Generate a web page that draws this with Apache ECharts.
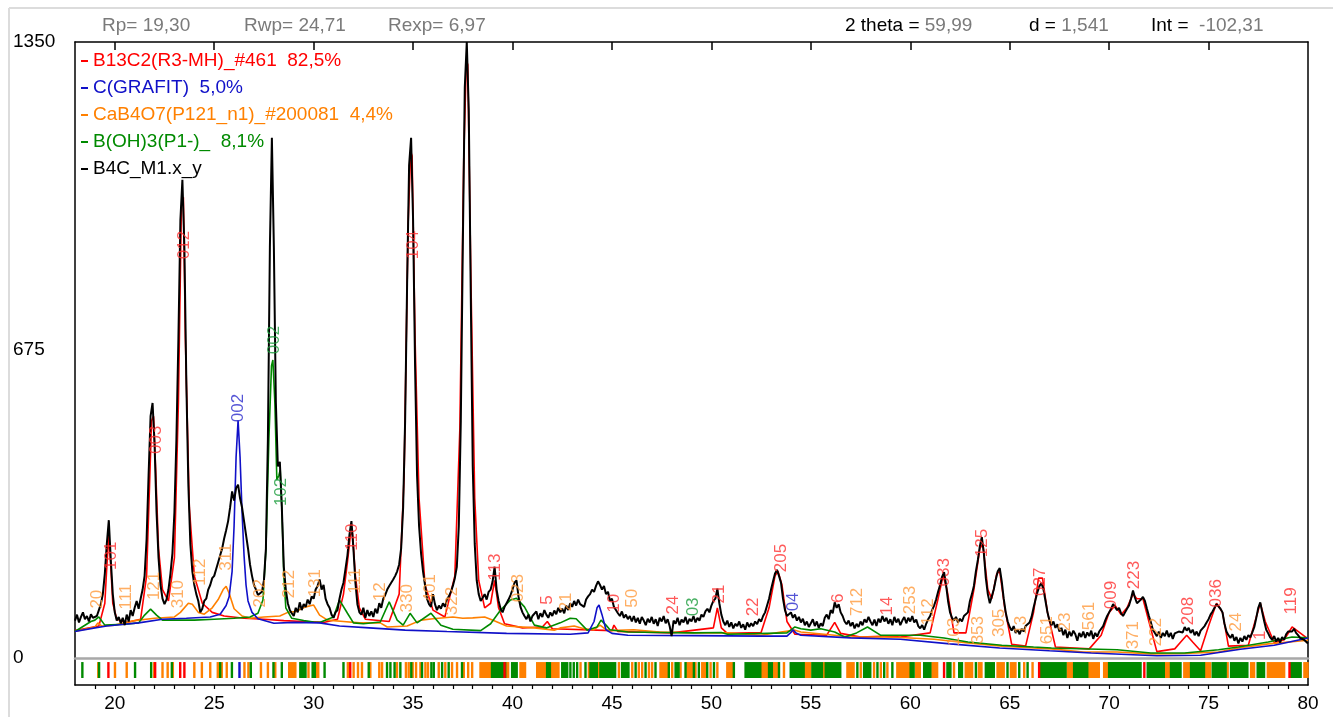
<!DOCTYPE html>
<html>
<head>
<meta charset="utf-8">
<title>B4C_M1 Rietveld</title>
<script src="https://cdn.jsdelivr.net/npm/echarts@6/dist/echarts.min.js"></script>
<style>
  html, body { margin: 0; padding: 0; background: #ffffff; }
  #chart { width: 1333px; height: 717px; }
</style>
</head>
<body>
<div id="chart"></div>
<script>
// ---- axis ranges and tick labels ----
const X_MIN = 18, X_MAX = 80;
const Y_MIN = 0, Y_MAX = 1350;
const X_LABEL_TICKS = [20, 25, 30, 35, 40, 45, 50, 55, 60, 65, 70, 75, 80];
const X_TOP_TICKS = [20, 25, 30, 35, 40, 45, 50, 55, 60, 65, 70, 75];
const Y_LABEL_TICKS = [0, 675, 1350];

// ---- refinement statistics shown in the header ----
const FIT_STATS = [
  { key: 'Rp= ', val: '19,30' },
  { key: 'Rwp= ', val: '24,71' },
  { key: 'Rexp= ', val: '6,97' }
];
const CURSOR_READOUT = [
  { key: '2 theta = ', val: '59,99' },
  { key: 'd = ', val: '1,541' },
  { key: 'Int =  ', val: '-102,31' }
];

// ---- series names (phase + weight fraction) ----
const NAME_B13C2 = 'B13C2(R3-MH)_#461  82,5%';
const NAME_GRAFIT = 'C(GRAFIT)  5,0%';
const NAME_CAB4O7 = 'CaB4O7(P121_n1)_#200081  4,4%';
const NAME_BOH3 = 'B(OH)3(P1-)_  8,1%';
const NAME_OBS = 'B4C_M1.x_y';

// ---- measured pattern, 2theta from 18.0 in steps of 0.1 ----
const OBS_START = 18.0, OBS_STEP = 0.1;
const OBS_INTENSITY = [
  82, 95, 78, 90, 100, 85, 92, 80, 96, 88,            // 18
  84, 92, 105, 118, 140, 185, 250, 302, 215, 140,     // 19
  100, 82, 90, 76, 88, 72, 95, 80, 105, 92,           // 20
  110, 125, 108, 130, 150, 180, 260, 400, 530, 559,   // 21
  470, 320, 220, 160, 130, 118, 128, 150, 185, 230,   // 22
  320, 480, 700, 960, 1048, 900, 600, 380, 250, 190,  // 23
  160, 140, 125, 100, 108, 125, 130, 150, 160, 175,   // 24
  180, 195, 210, 225, 240, 262, 280, 300, 330, 365,   // 25
  345, 372, 380, 350, 330, 300, 270, 240, 205, 180,   // 26
  160, 150, 138, 135, 145, 170, 240, 480, 900, 1140,  // 27
  900, 560, 420, 430, 330, 200, 150, 120, 105, 98,    // 28
  92, 110, 100, 122, 105, 118, 112, 128, 118, 135,    // 29
  130, 150, 158, 172, 150, 160, 130, 118, 110, 95,    // 30
  88, 100, 105, 130, 150, 165, 195, 225, 270, 300,    // 31
  240, 165, 118, 100, 95, 110, 88, 105, 92, 102,      // 32
  90, 108, 98, 120, 110, 130, 138, 150, 158, 165,     // 33
  172, 180, 190, 205, 240, 330, 520, 820, 1080, 1140, // 34
  960, 640, 400, 290, 230, 190, 160, 130, 118, 112,   // 35
  140, 118, 105, 115, 108, 120, 112, 128, 135, 145,   // 36
  158, 175, 200, 290, 520, 900, 1250, 1350, 1200, 800,// 37
  420, 250, 170, 140, 125, 132, 140, 128, 145, 150,   // 38
  168, 200, 150, 125, 108, 100, 112, 120, 128, 138,   // 39
  150, 165, 170, 135, 112, 100, 92, 85, 95, 80,       // 40
  92, 88, 102, 85, 98, 90, 105, 95, 88, 100,          // 41
  92, 104, 96, 110, 100, 108, 98, 115, 105, 120,      // 42
  112, 125, 115, 128, 118, 122, 112, 128, 135, 140,   // 43
  150, 145, 158, 168, 160, 150, 158, 140, 145, 125,   // 44
  130, 112, 105, 98, 92, 102, 88, 95, 85, 92,         // 45
  80, 92, 78, 88, 75, 90, 82, 72, 86, 78,             // 46
  90, 75, 85, 70, 88, 80, 92, 76, 85, 70,             // 47
  48, 82, 75, 88, 72, 84, 78, 90, 74, 86,             // 48
  80, 92, 78, 88, 82, 95, 90, 102, 108, 100,          // 49
  115, 125, 130, 152, 120, 95, 80, 72, 82, 68,        // 50
  78, 65, 75, 70, 80, 66, 74, 62, 78, 68,             // 51
  76, 70, 80, 74, 85, 80, 92, 100, 115, 130,          // 52
  150, 168, 185, 193, 180, 165, 130, 105, 92, 95,     // 53
  100, 88, 95, 82, 90, 78, 86, 72, 80, 68,            // 54
  76, 85, 70, 80, 66, 76, 70, 88, 95, 85,             // 55
  105, 98, 122, 110, 118, 100, 92, 80, 74, 82,        // 56
  70, 78, 65, 75, 68, 80, 72, 85, 78, 90,             // 57
  80, 72, 84, 70, 86, 78, 92, 80, 88, 75,             // 58
  85, 72, 90, 78, 86, 72, 82, 90, 76, 88,             // 59
  80, 92, 78, 84, 70, 65, 72, 62, 75, 85,             // 60
  92, 105, 115, 128, 145, 160, 178, 188, 160, 125,    // 61
  100, 88, 82, 90, 78, 86, 80, 92, 88, 100,           // 62
  125, 140, 158, 190, 215, 245, 265, 230, 175, 140,   // 63
  120, 135, 150, 172, 190, 197, 168, 130, 100, 80,    // 64
  68, 60, 70, 55, 62, 52, 64, 58, 70, 66,             // 65
  78, 90, 110, 128, 145, 158, 164, 150, 125, 100,     // 66
  82, 72, 80, 66, 74, 58, 66, 50, 62, 44,             // 67
  58, 48, 60, 52, 38, 55, 46, 58, 44, 56,             // 68
  48, 60, 42, 55, 47, 58, 62, 70, 82, 92,             // 69
  100, 108, 118, 115, 105, 110, 98, 92, 100, 108,     // 70
  115, 130, 148, 132, 120, 118, 128, 134, 125, 108,   // 71
  92, 78, 62, 55, 48, 58, 44, 55, 48, 60,             // 72
  46, 55, 42, 54, 50, 58, 62, 56, 68, 60,             // 73
  66, 55, 62, 50, 58, 48, 60, 62, 70, 78,             // 74
  85, 95, 102, 110, 118, 122, 108, 100, 75, 58,       // 75
  50, 44, 52, 38, 46, 32, 44, 36, 48, 40,             // 76
  50, 45, 56, 68, 88, 110, 122, 100, 80, 62,          // 77
  54, 45, 40, 48, 36, 44, 34, 46, 40, 52,             // 78
  58, 62, 58, 64, 55, 50, 44, 48, 40, 36,             // 79
  32                                                  // 80
];

// ---- calculated phase profiles (2theta, intensity incl. background) ----
const CALC_B13C2 = [
  [18.0,60],[19.2,70],[19.5,120],[19.6,200],[19.7,270],[19.8,200],[19.9,120],[20.1,85],[20.6,78],
  [21.3,85],[21.6,180],[21.75,380],[21.85,520],[21.95,530],[22.05,420],[22.2,240],[22.4,150],[22.7,125],
  [23.0,220],[23.2,560],[23.35,990],[23.45,1010],[23.55,700],[23.75,330],[24.0,180],[24.4,120],[24.9,100],
  [25.5,92],[26.5,87],[27.5,85],[28.5,82],[29.5,80],[30.5,78],[31.2,85],[31.5,140],[31.7,210],[31.85,270],
  [31.95,275],[32.1,180],[32.3,110],[32.6,85],[33.8,80],[34.3,140],[34.55,400],[34.75,950],[34.88,1110],
  [34.95,1100],[35.1,700],[35.3,350],[35.6,160],[36.0,105],[36.6,90],[37.1,180],[37.35,500],[37.55,1100],
  [37.68,1310],[37.75,1300],[37.9,850],[38.1,350],[38.3,170],[38.6,110],[38.9,120],[39.1,170],[39.3,110],
  [39.6,75],[40.5,66],[41.5,68],[41.75,80],[42.0,64],[45.0,60],[45.1,72],[45.3,58],[48.0,55],[50.1,66],
  [50.3,110],[50.5,66],[50.8,54],[52.5,56],[52.9,110],[53.2,180],[53.35,190],[53.55,160],[53.8,80],
  [54.2,52],[55.8,50],[56.2,78],[56.5,54],[57.5,46],[58.9,48],[59.5,46],[61.0,55],[61.4,130],[61.65,180],
  [61.85,150],[62.2,55],[62.8,55],[63.2,150],[63.5,240],[63.65,250],[63.9,150],[64.1,130],[64.35,185],
  [64.5,190],[64.75,110],[65.1,30],[65.8,26],[66.2,100],[66.45,175],[66.65,175],[66.9,100],[67.3,24],
  [69.0,20],[69.6,50],[70.0,100],[70.3,115],[70.6,95],[70.9,110],[71.2,140],[71.4,130],[71.7,130],
  [72.0,80],[72.4,14],[73.3,20],[73.6,35],[73.9,50],[74.2,35],[74.6,16],[75.0,70],[75.4,120],[75.7,100],
  [76.0,26],[77.0,28],[77.4,90],[77.6,120],[77.85,80],[78.3,34],[78.8,40],[79.2,68],[79.6,55],[80.0,42]
];
const CALC_GRAFIT = [
  [18.0,58],[19.0,66],[19.6,70],[20.5,74],[21.2,77],[22.4,85],[23.6,87],[24.8,90],[25.3,96],[25.6,115],
  [25.75,134],[25.9,190],[26.0,290],[26.1,440],[26.2,521],[26.3,440],[26.4,320],[26.5,225],[26.6,160],
  [26.7,125],[26.9,100],[27.2,86],[28.0,76],[29.0,78],[30.3,77],[31.3,70],[32.8,66],[34.6,61],[36.7,58],
  [39.7,54],[42.9,52],[43.8,55],[44.1,80],[44.25,110],[44.35,116],[44.5,95],[44.7,62],[45.0,54],[45.8,50],
  [49.2,49],[52.5,48],[53.8,48],[54.0,56],[54.1,62],[54.25,55],[54.5,50],[57.0,44],[59.5,41],[62.0,31],
  [64.5,22],[67.0,16],[69.1,11],[72.4,5],[74.6,6],[76.6,19],[78.3,28],[80.0,44]
];
const CALC_CAB4O7 = [
  [18.0,58],[19.0,68],[19.15,77],[19.35,70],[20.0,72],[21.0,82],[22.0,87],[23.0,90],[23.3,100],[23.7,120],
  [23.9,118],[24.2,100],[24.5,96],[24.9,110],[25.2,128],[25.45,150],[25.6,157],[25.75,142],[26.0,108],
  [26.4,92],[26.8,87],[27.5,90],[28.3,92],[28.7,100],[29.1,102],[29.6,112],[30.0,116],[30.3,94],[30.7,83],
  [31.5,80],[32.3,77],[33.35,77],[33.7,68],[34.7,70],[35.4,83],[36.0,86],[37.0,90],[37.5,87],[38.0,88],
  [38.6,90],[39.05,82],[39.7,70],[41.1,66],[42.1,61],[42.4,66],[43.1,70],[43.6,64],[44.1,62],[44.4,72],
  [44.7,62],[44.9,60],[46.1,62],[47.4,57],[49.1,55],[50.8,55],[52.5,50],[53.5,57],[54.2,61],[54.5,57],
  [56.2,50],[57.0,46],[58.7,46],[59.5,45],[61.2,41],[62.9,33],[64.6,26],[66.2,22],[67.1,20],[68.7,13],
  [70.4,13],[72.1,9],[73.8,10],[75.5,13],[76.5,22],[78.0,31],[80.0,39]
];
const CALC_BOH3 = [
  [18.0,58],[18.8,80],[19.0,83],[19.2,90],[19.5,72],[20.5,74],[21.2,77],[21.5,94],[21.8,107],[22.1,94],
  [22.4,83],[23.0,83],[24.0,83],[25.0,85],[26.0,87],[26.8,90],[27.2,98],[27.45,127],[27.6,237],[27.75,480],
  [27.88,640],[27.95,653],[28.05,560],[28.15,390],[28.25,400],[28.32,412],[28.4,330],[28.5,180],[28.6,110],
  [28.9,87],[29.5,82],[30.0,79],[30.3,78],[31.0,90],[31.3,127],[31.7,98],[32.0,77],[32.5,75],[33.35,79],
  [33.8,123],[34.2,83],[34.5,72],[34.85,98],[35.2,77],[35.9,98],[36.4,72],[37.0,63],[38.4,60],[38.9,75],
  [39.4,105],[39.9,127],[40.2,131],[40.6,112],[41.1,72],[41.7,66],[42.4,77],[42.9,87],[43.2,86],[43.75,61],
  [44.25,68],[44.45,83],[44.7,72],[44.9,62],[45.8,57],[47.4,56],[49.1,55],[50.5,56],[50.8,52],[53.8,55],
  [54.2,68],[54.5,64],[55.0,61],[55.5,64],[56.2,57],[56.7,46],[57.3,55],[57.85,68],[58.5,50],[59.5,50],
  [60.5,50],[61.7,44],[62.9,35],[64.6,28],[66.2,24],[67.1,22],[70.4,18],[72.1,11],[73.8,11],[75.5,18],
  [76.5,24],[78.0,35],[79.2,46],[80.0,44]
];

// ---- reflection markers: single 2theta or [from, to] for dense runs ----
const MARKS_CAB4O7 = [
  19.17, 20.01, 20.6, 21.98, 22.4, 22.66, 22.92, 24.0, 24.38, 24.8, 25.18, 25.38, 25.63, 26.52, 26.72,
  27.35, 27.7, 28.07, [28.77, 29.1], 29.74, [30.05, 30.25], 31.72, 32.01, 32.23, 32.43, 32.85, 33.3, 33.44,
  34.19, 34.64, 34.78, 34.98, 35.15, 35.37, 35.62, 35.75, 36.29, 36.62, 36.96, 37.21, 37.55, 37.77, 37.97,
  [38.39, 38.97], [39.7, 39.8], [40.4, 40.65], [41.24, 41.74], [41.99, 42.33], 43.42, 43.84, 44.34, 45.35,
  46.02, 46.35, 46.52, 46.86, 47.02, [47.44, 47.78], 48.03, 48.45, [48.79, 49.04], 49.2, [49.54, 49.71],
  49.96, 50.3, [50.8, 51.05], [52.48, 52.81], [53.15, 53.32], 53.65, [54.66, 55.0], 55.67, [56.84, 57.17],
  57.51, 58.18, 58.52, 58.85, [59.35, 60.02], [60.3, 60.5], [61.11, 61.37], 62.2, [62.79, 63.13],
  [63.45, 63.6], [64.39, 64.72], [65.06, 65.31], 65.73, 66.15, [67.91, 68.16], [68.92, 69.5], [69.75, 69.92],
  70.45, [72.86, 73.03], [73.78, 74.12], [74.85, 75.1], 75.96, [77.14, 77.31], [77.98, 78.82], [79.82, 80.0]
];
const MARKS_BOH3 = [
  18.37, 19.21, 21.02, 21.83, 22.87, 25.3, 25.89, 26.84, 27.98, 28.4, [29.33, 29.61], [29.95, 30.08], 30.55,
  31.5, 32.77, 33.69, 33.86, 34.07, 34.36, 34.91, 35.45, 35.92, 36.04, 36.46, 36.79, 37.46, [38.97, 39.65],
  [39.98, 40.23], [41.74, 41.9], [42.5, 42.66], 42.75, 42.91, 43.08, 43.25, 43.67, [43.92, 44.26],
  [44.42, 45.18], [45.51, 45.85], 46.19, 46.69, 47.19, 47.86, [48.2, 48.37], 48.7, 49.12, 49.37, 49.79,
  50.13, 51.13, [51.72, 52.48], [52.9, 53.06], 53.4, [53.99, 54.66], [55.08, 55.58], [55.75, 56.5], 57.34,
  [57.68, 58.01], 58.35, 58.69, 59.1, [60.02, 60.19], [60.7, 61.03], [61.87, 62.04], [62.46, 62.62], 63.3,
  [63.8, 64.22], 64.89, 65.48, 65.9, [66.57, 67.83], [68.24, 68.92], [70.0, 71.6], [71.94, 72.77],
  [73.11, 73.61], [74.12, 74.79], [75.21, 75.88], [76.13, 76.97], [77.47, 77.81], [79.15, 79.65]
];
const MARKS_B13C2 = [19.68, 22.03, 23.29, 23.5, 31.84, 39.6, 61.7, 66.48, 71.77, 79.07];
const MARKS_GRAFIT = [26.27];

// ---- hkl annotations: [2theta, height, hkl] ----
const HKL_B13C2 = [
  [19.85,224,'101'],[22.07,478,'003'],[23.5,905,'012'],[31.94,265,'110'],[35.0,905,'104'],[39.14,199,'113'],
  [41.75,127,'5'],[45.1,120,'10'],[48.1,116,'24'],[50.4,140,'21'],[52.1,112,'22'],[53.5,219,'205'],
  [56.4,131,'6'],[58.87,114,'14'],[61.73,188,'033'],[63.6,252,'125'],[66.56,167,'027'],[70.1,138,'009'],
  [71.25,182,'223'],[73.96,103,'208'],[75.4,142,'036'],[77.6,50,'1'],[79.15,125,'119']
];
const HKL_GRAFIT = [[26.2,548,'002'],[54.1,123,'04']];
const HKL_BOH3 = [[28.0,697,'002'],[28.35,364,'102'],[49.1,112,'03']];
const HKL_CAB4O7 = [
  [19.1,129,'20'],[20.6,134,'111'],[22.0,158,'121'],[23.2,140,'310'],[24.3,188,'112'],[25.6,221,'311'],
  [27.3,142,'202'],[28.8,162,'212'],[30.1,164,'131'],[32.1,169,'111'],[33.35,145,'12'],[34.7,131,'330'],
  [35.85,153,'401'],[36.97,125,'322'],[40.3,153,'023'],[42.7,123,'21'],[46.0,131,'50'],[57.35,123,'712'],
  [60.0,127,'253'],[60.9,101,'112'],[62.2,57,'103'],[63.4,61,'353'],[64.5,77,'305'],[65.6,72,'13'],
  [66.9,61,'651'],[67.8,79,'23'],[69.0,92,'561'],[71.2,50,'371'],[72.35,57,'222'],[76.4,79,'24']
];

// ---- styling ----
const FONT = '"Liberation Sans", Arial, sans-serif';
const C_RED = '#ff0000', C_BLUE = '#1010c8', C_ORANGE = '#ff8000', C_GREEN = '#008a00', C_BLACK = '#000000';
const GRAY_TEXT = '#7a7a7a';
const PLOT_LEFT = 75, PLOT_WIDTH = 1233, PLOT_TOP = 42, PLOT_HEIGHT = 616, STRIP_HEIGHT = 27;

const obsData = OBS_INTENSITY.map((v, i) => [+(OBS_START + i * OBS_STEP).toFixed(2), v]);
const toRange = m => Array.isArray(m) ? m : [m, m];

function markerSeries(name, marks, color) {
  return {
    name: name, type: 'custom', xAxisIndex: 2, yAxisIndex: 2, silent: true, z: 3,
    encode: { x: [0, 1] },
    data: marks.map(toRange),
    renderItem: function (params, api) {
      const top = api.coord([api.value(0), 0.85]);
      const bot = api.coord([api.value(1), 0.26]);
      const w = Math.max(2.4, bot[0] - top[0] + 2);
      return { type: 'rect', shape: { x: top[0] - 1.2, y: top[1], width: w, height: bot[1] - top[1] },
               style: { fill: color } };
    }
  };
}
function hklSeries(name, items, color) {
  return {
    name: name, type: 'scatter', xAxisIndex: 0, yAxisIndex: 0, silent: true, z: 6,
    symbolSize: 0, dimensions: ['x', 'y', 'hkl'], encode: { x: 0, y: 1 },
    data: items,
    label: { show: true, position: 'inside', rotate: 90, color: color, fontSize: 17,
             fontFamily: FONT, formatter: p => p.value[2] }
  };
}
function calcSeries(name, data, color) {
  return {
    name: name, type: 'line', xAxisIndex: 0, yAxisIndex: 0, data: data, showSymbol: false,
    symbol: 'none', silent: true, z: 2, color: color,
    lineStyle: { color: color, width: 1.6 }
  };
}

function statText(items, xs, y, keyColor) {
  return items.map((it, i) => ({
    type: 'text', x: xs[i], y: y, silent: true,
    style: {
      text: '{k|' + it.key + '}{v|' + it.val + '}',
      font: '19px ' + FONT, verticalAlign: 'middle',
      rich: { k: { fill: keyColor, font: '19px ' + FONT },
              v: { fill: GRAY_TEXT, font: '19px ' + FONT } }
    }
  }));
}

const chart = echarts.init(document.getElementById('chart'), null, { renderer: 'canvas' });
chart.setOption({
  animation: false,
  backgroundColor: '#ffffff',
  textStyle: { fontFamily: FONT },
  grid: [
    { left: PLOT_LEFT, top: PLOT_TOP, width: PLOT_WIDTH, height: PLOT_HEIGHT, containLabel: false, outerBoundsMode: 'none' },
    { left: PLOT_LEFT, top: PLOT_TOP + PLOT_HEIGHT, width: PLOT_WIDTH, height: STRIP_HEIGHT, containLabel: false, outerBoundsMode: 'none' }
  ],
  xAxis: [
    { gridIndex: 0, type: 'value', min: X_MIN, max: X_MAX, position: 'top',
      axisLine: { show: true, onZero: false, lineStyle: { color: '#000', width: 1.5 } },
      axisTick: { show: true, inside: true, length: 8, customValues: X_TOP_TICKS, lineStyle: { color: '#000', width: 1.5 } },
      axisLabel: { show: false }, splitLine: { show: false } },
    { gridIndex: 0, type: 'value', min: X_MIN, max: X_MAX, position: 'bottom',
      axisLine: { show: true, onZero: false, lineStyle: { color: '#a8a8a8', width: 2.5 } },
      axisTick: { show: false }, axisLabel: { show: false }, splitLine: { show: false } },
    { gridIndex: 1, type: 'value', min: X_MIN, max: X_MAX, position: 'bottom',
      axisLine: { show: true, onZero: false, lineStyle: { color: '#000', width: 1.5 } },
      axisTick: { show: true, inside: false, length: 4,
                  customValues: Array.from({ length: X_MAX - X_MIN - 1 }, (_, i) => X_MIN + 1 + i),
                  lineStyle: { color: '#000', width: 1.2 } },
      axisLabel: { show: true, customValues: X_LABEL_TICKS, margin: 9, color: '#000', fontSize: 19, fontFamily: FONT,
                   formatter: v => String(v) },
      splitLine: { show: false } }
  ],
  yAxis: [
    { gridIndex: 0, type: 'value', min: Y_MIN, max: Y_MAX, position: 'left',
      axisLine: { show: true, onZero: false, lineStyle: { color: '#000', width: 1.5 } },
      axisTick: { show: false },
      axisLabel: { show: true, customValues: Y_LABEL_TICKS, align: 'left', margin: 62, color: '#000', fontSize: 19, fontFamily: FONT,
                   formatter: v => String(v) },
      splitLine: { show: false } },
    { gridIndex: 0, type: 'value', min: Y_MIN, max: Y_MAX, position: 'right',
      axisLine: { show: true, onZero: false, lineStyle: { color: '#000', width: 1.5 } },
      axisTick: { show: false }, axisLabel: { show: false }, splitLine: { show: false } },
    { gridIndex: 1, type: 'value', min: 0, max: 1, position: 'left',
      axisLine: { show: true, onZero: false, lineStyle: { color: '#000', width: 1.5 } },
      axisTick: { show: false }, axisLabel: { show: false }, splitLine: { show: false } },
    { gridIndex: 1, type: 'value', min: 0, max: 1, position: 'right',
      axisLine: { show: true, onZero: false, lineStyle: { color: '#000', width: 1.5 } },
      axisTick: { show: false }, axisLabel: { show: false }, splitLine: { show: false } }
  ],
  legend: {
    orient: 'vertical', left: 81, top: 51, itemWidth: 7, itemHeight: 2, itemGap: 7,
    icon: 'rect', selectedMode: false, padding: 0,
    textStyle: { fontSize: 19, lineHeight: 20, fontFamily: FONT },
    data: [
      { name: NAME_B13C2, textStyle: { color: C_RED } },
      { name: NAME_GRAFIT, textStyle: { color: C_BLUE } },
      { name: NAME_CAB4O7, textStyle: { color: C_ORANGE } },
      { name: NAME_BOH3, textStyle: { color: C_GREEN } },
      { name: NAME_OBS, textStyle: { color: C_BLACK } }
    ]
  },
  graphic: [
    { type: 'line', silent: true, shape: { x1: 9, y1: 8, x2: 1333, y2: 8 }, style: { stroke: '#dcdcdc', lineWidth: 2 } },
    { type: 'line', silent: true, shape: { x1: 9, y1: 8, x2: 9, y2: 717 }, style: { stroke: '#dcdcdc', lineWidth: 2 } },
    ...statText(FIT_STATS, [102, 244, 388], 26, GRAY_TEXT),
    ...statText(CURSOR_READOUT, [845, 1029, 1151], 26, '#000000')
  ],
  series: [
    // the main phase sits underneath the minor phases and the measured pattern
    calcSeries(NAME_B13C2, CALC_B13C2, C_RED),
    calcSeries(NAME_CAB4O7, CALC_CAB4O7, C_ORANGE),
    calcSeries(NAME_BOH3, CALC_BOH3, C_GREEN),
    calcSeries(NAME_GRAFIT, CALC_GRAFIT, C_BLUE),
    {
      name: NAME_OBS, type: 'line', xAxisIndex: 0, yAxisIndex: 0, data: obsData,
      showSymbol: false, symbol: 'none', silent: true, z: 4, color: C_BLACK,
      lineStyle: { color: C_BLACK, width: 2 }
    },
    hklSeries('hkl B13C2', HKL_B13C2, '#ff3030'),
    hklSeries('hkl C', HKL_GRAFIT, '#2a2acc'),
    hklSeries('hkl CaB4O7', HKL_CAB4O7, '#ff9a3c'),
    hklSeries('hkl B(OH)3', HKL_BOH3, '#1c9c3c'),
    markerSeries('marks CaB4O7', MARKS_CAB4O7, C_ORANGE),
    markerSeries('marks B(OH)3', MARKS_BOH3, C_GREEN),
    markerSeries('marks B13C2', MARKS_B13C2, C_RED),
    markerSeries('marks C', MARKS_GRAFIT, C_BLUE)
  ]
});
</script>
</body>
</html>
